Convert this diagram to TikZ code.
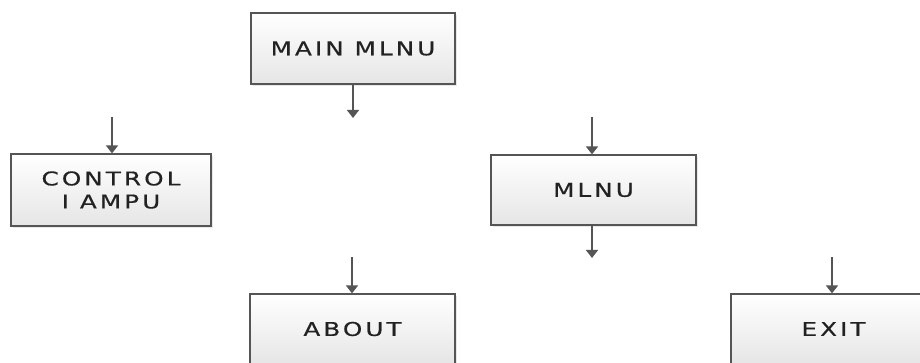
\documentclass[tikz,border=0pt]{standalone}
\usepackage{fontspec}
\newfontfamily\boxfont[LetterSpace=16,FakeStretch=1.3,FakeBold=0.5]{DejaVu Sans}
\usetikzlibrary{arrows.meta,shadows}
\definecolor{edge}{HTML}{555555}
\definecolor{ink}{HTML}{222222}
\tikzset{
  menubox/.style={draw=edge, line width=1.2pt, top color=white, bottom color=black!10,
    minimum width=204pt, minimum height=71pt, inner sep=0pt, align=center,
    font=\boxfont\fontsize{19}{23}\selectfont, text=ink,
    drop shadow={opacity=0.18, shadow xshift=2pt, shadow yshift=-2pt}},
  stub/.style={draw=edge, line width=1.4pt, -{Triangle[width=12pt,length=8pt]}}
}
\begin{document}
\begin{tikzpicture}[x=1pt,y=-1pt]
\clip (0,0) rectangle (920,363);
\fill[white] (0,0) rectangle (920,363);
\node[menubox] (main) at (353,48.5) {MAIN MLNU};
\node[menubox, minimum width=200pt, minimum height=72pt] (control) at (111,190) {CONTROL\\I AMPU};
\node[menubox, minimum width=205pt, minimum height=70pt] (mlnu) at (593.5,190) {MLNU};
\node[menubox, minimum width=205pt, minimum height=70pt] (about) at (352.5,329) {ABOUT};
\node[menubox, minimum width=205pt, minimum height=70pt] (exit) at (833.5,329) {EXIT};
\coordinate (m1) at (353,118);
\coordinate (c1) at (112,117);
\coordinate (n1) at (592,117);
\coordinate (n2) at (592,258);
\coordinate (a1) at (352,257);
\coordinate (e1) at (832,257);
\draw[stub] (main.south -| m1) -- (m1);
\draw[stub] (c1) -- (c1 |- control.north);
\draw[stub] (n1) -- (n1 |- mlnu.north);
\draw[stub] (mlnu.south -| n2) -- (n2);
\draw[stub] (a1) -- (a1 |- about.north);
\draw[stub] (e1) -- (e1 |- exit.north);
\end{tikzpicture}
\end{document}
